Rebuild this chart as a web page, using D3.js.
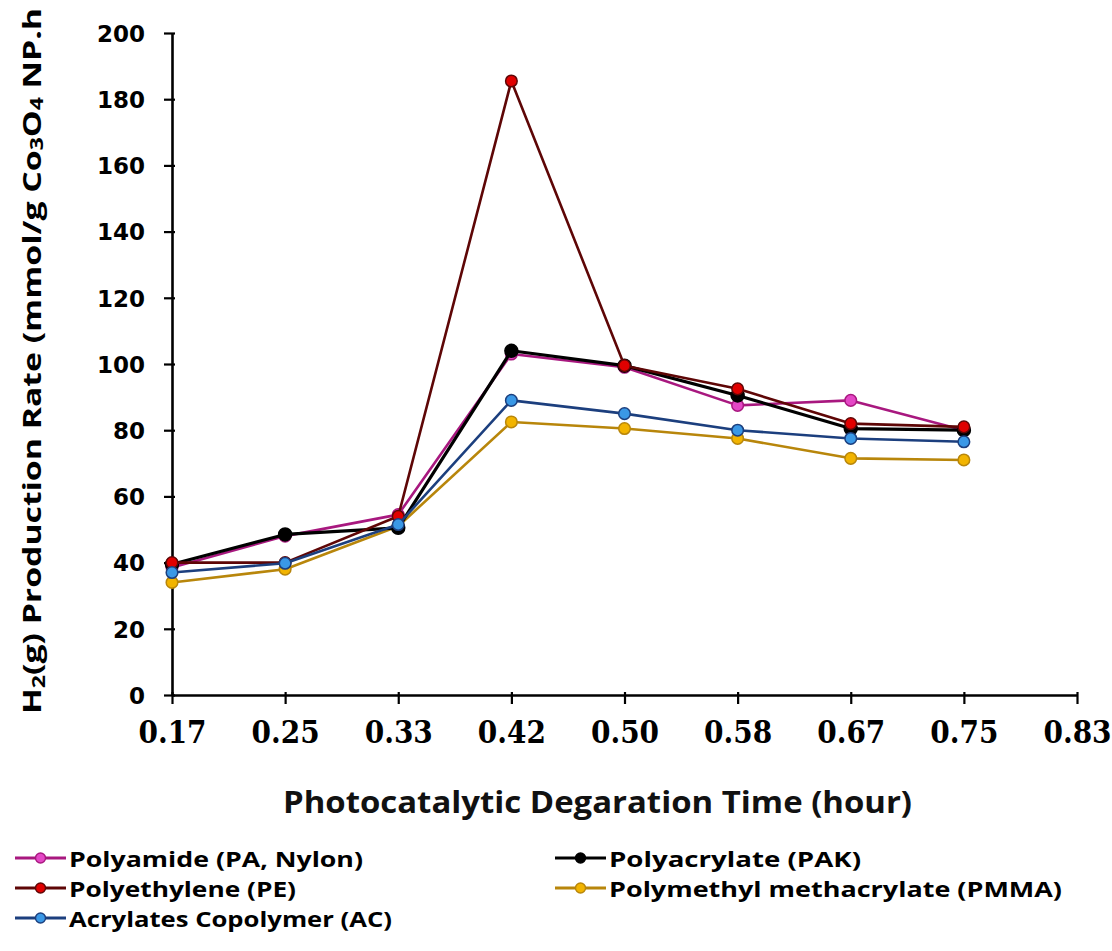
<!DOCTYPE html>
<html><head><meta charset="utf-8">
<script src="https://cdn.jsdelivr.net/npm/d3@7"></script>
<style>body{margin:0;background:#fff}</style>
</head><body><svg id="c" width="1112" height="951"></svg>
<script>
// ---------- data ----------
const xLabels = ["0.17","0.25","0.33","0.42","0.50","0.58","0.67","0.75","0.83"];
const yTicks = [0,20,40,60,80,100,120,140,160,180,200];
const seriesNames = ["Polyamide (PA, Nylon)","Polyacrylate (PAK)","Polyethylene (PE)","Polymethyl methacrylate (PMMA)","Acrylates Copolymer (AC)"];
const polyamide = [38.5, 48, 54.5, 103, 99, 87.5, 89, 80];
const polyacrylate = [39.5, 48.5, 50.5, 104, 99.5, 90.5, 80.5, 80];
const polyethylene = [40, 40, 54, 185.5, 99.5, 92.5, 82, 81];
const pmma = [34, 38, 51, 82.5, 80.5, 77.5, 71.5, 71];
const acrylates = [37, 39.8, 51.5, 89, 85, 80, 77.5, 76.5];
const lineColors = ["#a8187f","#000000","#5e0606","#b8860b","#1c3f7e"];
const markerColors = ["#e447c6","#000000","#e00000","#f2b400","#3a98e6"];
const legendWidths = [294, 252, 227, 453, 323];

const svg = d3.select("#c");
svg.append("rect").attr("width",1112).attr("height",951).attr("fill","#fff");

const x = d3.scalePoint().domain(xLabels).range([172,1077]);
const y = d3.scaleLinear().domain([0,200]).range([695,33]);

// y axis
const gy = svg.append("g").attr("transform","translate(172,0)")
  .call(d3.axisLeft(y).tickValues(yTicks).tickSize(8).tickSizeOuter(0).tickPadding(19));
gy.select(".domain").attr("stroke","#000").attr("stroke-width",2.6);
gy.selectAll(".tick line").attr("x1",3).attr("x2",-8).attr("stroke","#000").attr("stroke-width",2.2);
gy.selectAll(".tick text").attr("font-family","DejaVu Sans").attr("font-weight","bold")
  .attr("font-size",23).attr("fill","#000").attr("dy","0.36em");

// x axis
const gx = svg.append("g").attr("transform","translate(0,695)")
  .call(d3.axisBottom(x).tickSize(9).tickSizeOuter(0));
gx.select(".domain").attr("stroke","#000").attr("stroke-width",2.6);
gx.selectAll(".tick line").attr("y1",-3).attr("y2",9).attr("stroke","#000").attr("stroke-width",2.2);
gx.selectAll(".tick text").attr("font-family","DejaVu Serif").attr("font-weight","bold")
  .attr("font-size",28).attr("fill","#000").attr("y",0).attr("dy",0)
  .attr("transform","translate(0,48) scale(1,1.15)");

// series
const allSeries = [polyamide, polyacrylate, polyethylene, pmma, acrylates];
const drawOrder = [3, 0, 1, 2, 4];
const line = d3.line().x((d,i)=>x(xLabels[i])).y(d=>y(d));
drawOrder.forEach(si=>{
  const vals = allSeries[si];
  const g = svg.append("g");
  g.append("path").datum(vals).attr("d",line).attr("fill","none")
    .attr("stroke",lineColors[si]).attr("stroke-width", si===1?3.2:2.6).attr("stroke-linejoin","round");
  g.selectAll("circle").data(vals).join("circle")
    .attr("cx",(d,i)=>x(xLabels[i])).attr("cy",d=>y(d))
    .attr("r", si===1?6.5:5.8)
    .attr("fill",markerColors[si]).attr("stroke",lineColors[si]).attr("stroke-width",1.5);
});

// y title
const yt = svg.append("text").attr("transform","translate(41,361) rotate(-90)")
  .attr("text-anchor","middle").attr("font-family","Open Sans").attr("font-weight","bold")
  .attr("font-size",25).attr("fill","#000");
yt.append("tspan").text("H");
yt.append("tspan").text("2").attr("font-size",17).attr("dy",4);
yt.append("tspan").text("(g) Production Rate (mmol/g Co").attr("dy",-4);
yt.append("tspan").text("3").attr("font-size",17).attr("dy",2);
yt.append("tspan").text("O").attr("dy",-2);
yt.append("tspan").text("4").attr("font-size",17).attr("dy",2);
yt.append("tspan").text(" NP.h").attr("dy",-2);
yt.attr("textLength",706).attr("lengthAdjust","spacingAndGlyphs");

// x title
svg.append("text").attr("x",597.5).attr("y",813).attr("text-anchor","middle")
  .attr("font-family","Open Sans").attr("font-weight","bold").attr("font-size",31)
  .attr("fill","#111").attr("textLength",629).attr("lengthAdjust","spacingAndGlyphs")
  .text("Photocatalytic Degaration Time (hour)");

// legend
const legendPos = [
  {si:0, x:15, y:858}, {si:1, x:555, y:858},
  {si:2, x:15, y:888}, {si:3, x:555, y:888},
  {si:4, x:15, y:918}
];
const lg = svg.append("g");
legendPos.forEach(p=>{
  const g = lg.append("g").attr("transform",`translate(${p.x},${p.y})`);
  g.append("line").attr("x1",0).attr("x2",51).attr("y1",0).attr("y2",0)
    .attr("stroke",lineColors[p.si]).attr("stroke-width",3);
  g.append("circle").attr("cx",25.5).attr("cy",0).attr("r",5)
    .attr("fill",markerColors[p.si]).attr("stroke",lineColors[p.si]).attr("stroke-width",1.4);
  g.append("text").attr("x",54).attr("y",8.5)
    .attr("font-family","Open Sans").attr("font-weight","bold").attr("font-size",22)
    .attr("fill","#000").attr("textLength",legendWidths[p.si]).attr("lengthAdjust","spacingAndGlyphs")
    .text(seriesNames[p.si]);
});
</script></body></html>
